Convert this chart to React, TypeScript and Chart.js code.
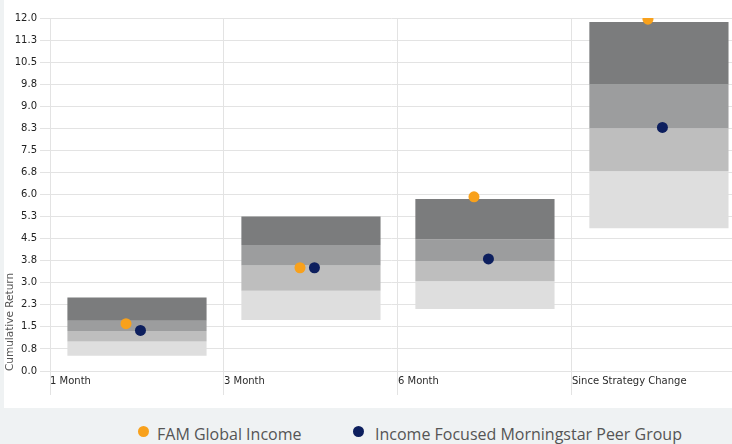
import React, { useEffect, useRef } from "react";
import { Chart, registerables } from "chart.js";

Chart.register(...registerables);

const categories = ["1 Month", "3 Month", "6 Month", "Since Strategy Change"];
// Peer group quartile bands (low edge of bottom quartile up to top of top quartile)
const q4Low = [0.52, 1.73, 2.11, 4.85];
const q4High = [1.0, 2.73, 3.05, 6.79];
const q3High = [1.36, 3.59, 3.74, 8.25];
const q2High = [1.71, 4.28, 4.48, 9.74];
const q1High = [2.5, 5.25, 5.85, 11.86];
const famGlobalIncome = [1.61, 3.51, 5.92, 11.96];
const peerGroup = [1.38, 3.51, 3.81, 8.28];
const yTicks = [0, 0.75, 1.5, 2.25, 3, 3.75, 4.5, 5.25, 6, 6.75, 7.5, 8.25, 9, 9.75, 10.5, 11.25, 12];

const ORANGE = "#f8a11c";
const NAVY = "#0d1f5e";
const GRID = "#e3e3e3";
const TICK_FONT = { family: "'DejaVu Sans', Verdana, sans-serif", size: 10 };

export default function App() {
  const ref = useRef<HTMLCanvasElement | null>(null);

  useEffect(() => {
    if (!ref.current) return;
    const center = (i: number) => i + 0.5;
    const band = (lo: number[], hi: number[], color: string, order: number) => ({
      type: "bar" as const,
      label: "band" + order,
      data: categories.map((_, i) => ({ x: center(i), y: [lo[i], hi[i]] })),
      backgroundColor: color,
      borderWidth: 0,
      borderSkipped: false,
      grouped: false,
      categoryPercentage: 1,
      barPercentage: 0.8,
      order: 10 + order,
    });
    const chart = new Chart(ref.current, {
      type: "bar",
      data: {
        datasets: [
          {
            type: "scatter",
            label: "FAM Global Income",
            data: categories.map((_, i) => ({ x: center(i) - 0.063, y: famGlobalIncome[i] })),
            backgroundColor: ORANGE,
            borderWidth: 0,
            pointRadius: 5.5,
            order: 0,
          },
          {
            type: "scatter",
            label: "Income Focused Morningstar Peer Group",
            data: categories.map((_, i) => ({ x: center(i) + 0.02, y: peerGroup[i] })),
            backgroundColor: NAVY,
            borderWidth: 0,
            pointRadius: 5.5,
            order: 1,
          },
          band(q2High, q1High, "#7b7c7d", 1),
          band(q3High, q2High, "#9c9d9e", 2),
          band(q4High, q3High, "#bebebe", 3),
          band(q4Low, q4High, "#dedede", 4),
        ] as any,
      },
      options: {
        animation: false,
        responsive: false,
        layout: { autoPadding: false, padding: { top: 18, left: 0, right: 0, bottom: 0 } },
        plugins: { legend: { display: false }, tooltip: { enabled: false } },
        scales: {
          x: {
            type: "linear",
            min: 0,
            max: 3.92,
            offset: false,
            afterBuildTicks: (scale: any) => {
              scale.ticks = categories.map((_, i) => ({ value: i }));
            },
            afterFit: (scale: any) => {
              scale.height = 37;
              scale.paddingLeft = 0;
              scale.paddingRight = 0;
            },
            grid: { color: GRID, tickLength: 24, drawTicks: true, offset: false },
            border: { color: GRID },
            ticks: {
              align: "start",
              padding: -20,
              maxRotation: 0,
              autoSkip: false,
              color: "#2b2b2b",
              font: TICK_FONT,
              callback: (v: any) => categories[Math.round(Number(v))] ?? "",
            },
          },
          y: {
            type: "linear",
            min: 0,
            max: 12,
            afterBuildTicks: (scale: any) => {
              scale.ticks = yTicks.map((v) => ({ value: v }));
            },
            afterFit: (scale: any) => {
              scale.width = 46;
            },
            grid: { color: GRID, tickLength: 10 },
            border: { color: GRID },
            title: {
              display: true,
              text: "Cumulative Return",
              align: "start",
              color: "#555",
              font: { family: "'DejaVu Sans', Verdana, sans-serif", size: 10.5 },
              padding: 0,
            },
            ticks: {
              padding: 3,
              color: "#222",
              font: TICK_FONT,
              callback: (v: any) => Number(v).toFixed(1),
            },
          },
        },
      } as any,
    });
    return () => chart.destroy();
  }, []);

  const legendText: React.CSSProperties = {
    position: "absolute",
    top: 424,
    fontFamily: "'Open Sans', sans-serif",
    fontSize: 16,
    lineHeight: "20px",
    color: "#555",
    whiteSpace: "nowrap",
  };
  const dot = (color: string, cx: number): React.CSSProperties => ({
    position: "absolute",
    left: cx - 5.5,
    top: 431 - 5.5,
    width: 11,
    height: 11,
    borderRadius: "50%",
    background: color,
  });

  return (
    <div
      style={{
        position: "absolute",
        left: 0,
        top: 0,
        width: 732,
        height: 444,
        background: "#eff2f3",
        overflow: "hidden",
      }}
    >
      <div style={{ position: "absolute", left: 4, top: 0, width: 728, height: 408, background: "#fff" }}>
        <canvas ref={ref} width={728} height={408} style={{ width: 728, height: 408, display: "block" }} />
      </div>
      <div style={dot(ORANGE, 143)} />
      <div style={{ ...legendText, left: 157 }}>FAM Global Income</div>
      <div style={dot(NAVY, 358)} />
      <div style={{ ...legendText, left: 375 }}>Income Focused Morningstar Peer Group</div>
    </div>
  );
}
